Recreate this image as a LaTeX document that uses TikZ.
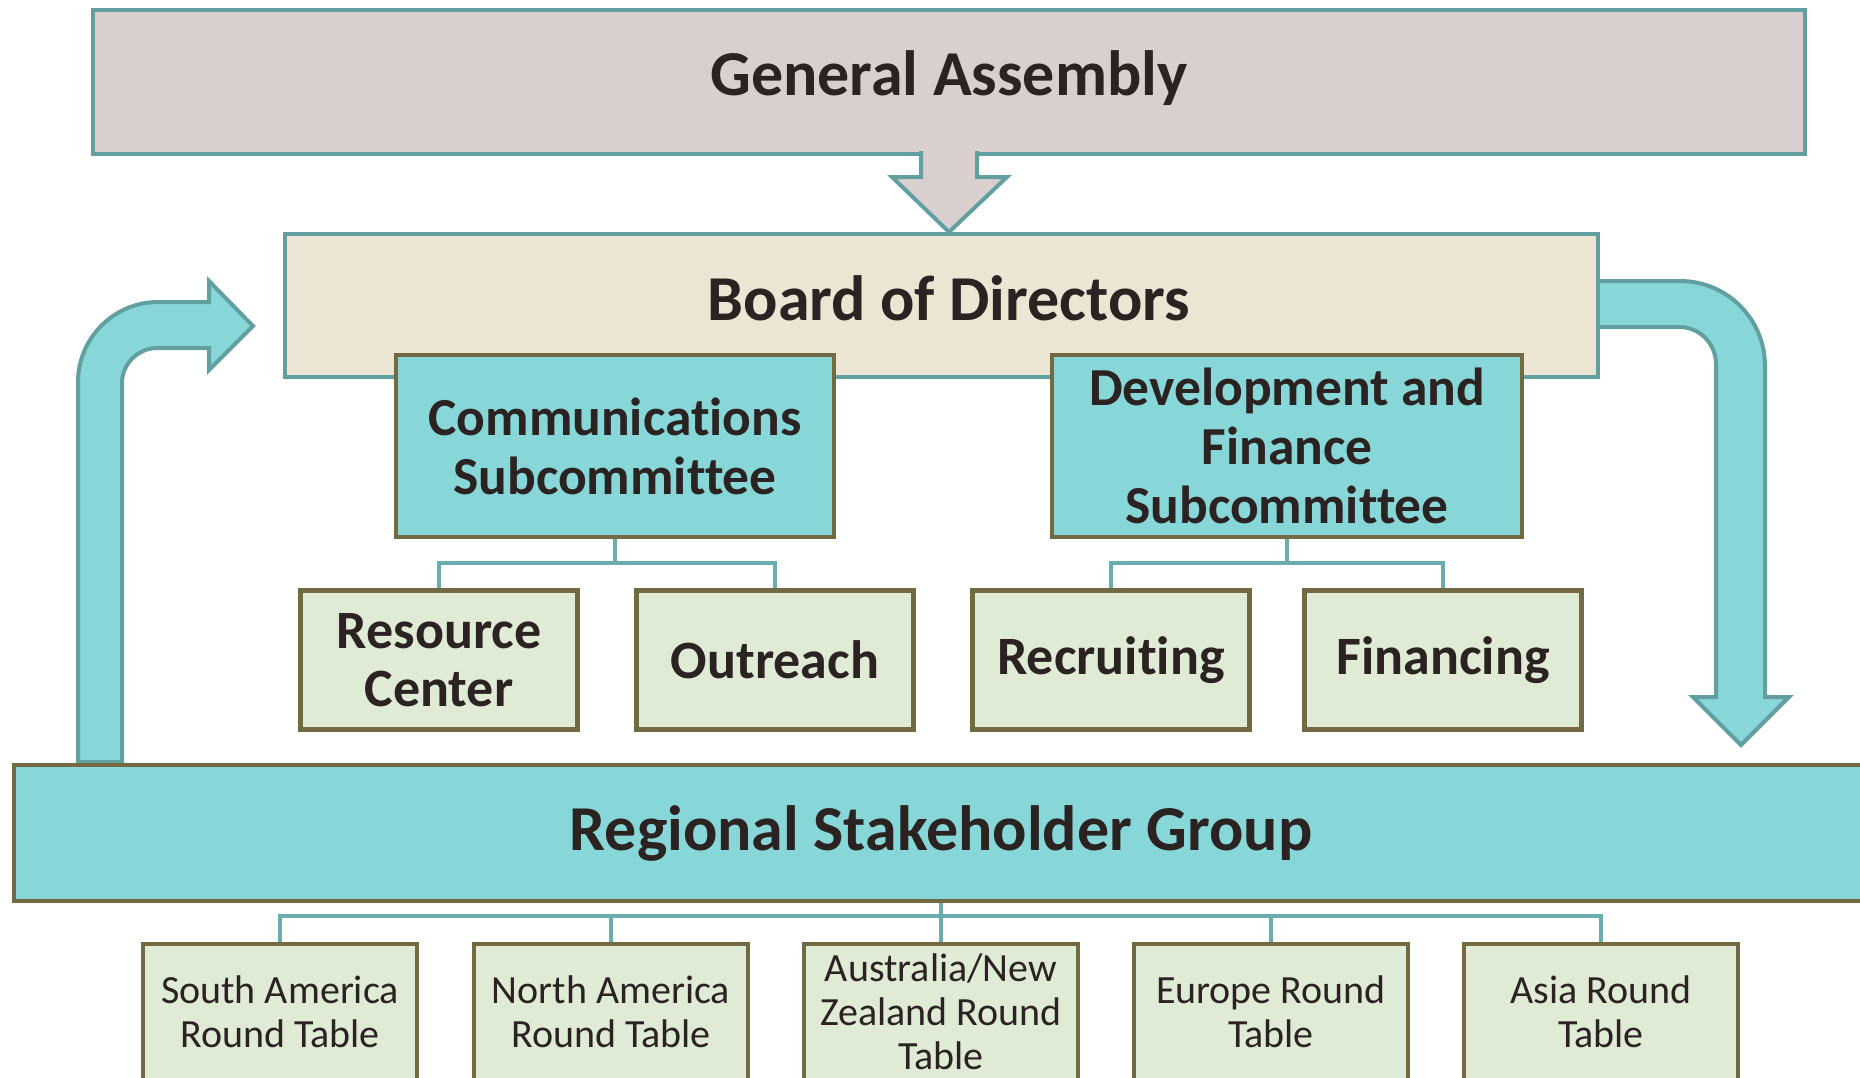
\documentclass[tikz,border=0pt]{standalone}
\usepackage{fontspec}
\setmainfont{Carlito}[Ligatures=NoCommon]
\usetikzlibrary{shapes}

\definecolor{gaFill}{HTML}{D9CFCF}
\definecolor{boardFill}{HTML}{ECE5D3}
\definecolor{tealFill}{HTML}{88D7D8}
\definecolor{leafFill}{HTML}{E0EBD6}
\definecolor{tealLine}{HTML}{629FA0}
\definecolor{oliveLine}{HTML}{736943}
\definecolor{linkLine}{HTML}{6AADAE}
\definecolor{inkText}{HTML}{2B2222}

\begin{document}
\begin{tikzpicture}[x=1pt,y=-1pt,
    every node/.style={text=inkText,inner sep=0pt},
    headbox/.style={draw=tealLine,line width=4pt,text depth=17pt,font=\fontsize{64}{77}\selectfont\bfseries},
    headtext/.style={anchor=base,font=\fontsize{64}{77}\selectfont\bfseries},
    subbox/.style={draw=oliveLine,line width=4.5pt,fill=tealFill,align=center,minimum height=182pt,font=\fontsize{53.5}{59}\selectfont\bfseries},
    teambox/.style={draw=oliveLine,line width=4.5pt,fill=leafFill,align=center,minimum width=277pt,minimum height=139pt,font=\fontsize{54}{58}\selectfont\bfseries},
    tablebox/.style={draw=oliveLine,line width=4.5pt,fill=leafFill,align=center,minimum width=274pt,minimum height=136pt,font=\fontsize{40}{44}\selectfont},
    link/.style={draw=linkLine,line width=4pt},
    blockarrow/.style={draw=tealLine,line width=4pt,fill=tealFill}]

    \clip (0,0) rectangle (1860,1077);

    \node[headbox,fill=gaFill,minimum width=1712pt,minimum height=144pt] (ga) at (949,82) {General Assembly};
    \node[headbox,fill=boardFill,minimum width=1313pt,minimum height=143pt] (board) at (941,305) {};
    \node[headtext] (boardname) at (949,320) {Board of Directors};
    \filldraw[blockarrow,fill=gaFill] (921,151) -- (921,177) -- (892,177) -- (949,232) -- (1007,177) -- (977,177) -- (977,151);

    \node[subbox,minimum width=438pt] (comm) at (615,446) {Communications\\Subcommittee};
    \node[subbox,minimum width=470pt] (devfin) at (1287,446) {Development and\\Finance\\Subcommittee};

    \node[teambox] (resource) at (439,660) {Resource\\Center};
    \node[teambox] (outreach) at (775,660) {Outreach};
    \node[teambox] (recruit) at (1111,660) {Recruiting};
    \node[teambox] (finance) at (1443,660) {Financing};
    \draw[link] (comm.south) -- ++(0,24) -| (resource.north);
    \draw[link] (comm.south) -- ++(0,24) -| (outreach.north);
    \draw[link] (devfin.south) -- ++(0,24) -| (recruit.north);
    \draw[link] (devfin.south) -- ++(0,24) -| (finance.north);

    % feedback arrows
    \filldraw[blockarrow] (78,762) -- (78,382) .. controls (78,338) and (114,302) .. (158,302) -- (209,302) -- (209,281) -- (253,326) -- (209,370) -- (209,348) -- (157,348) .. controls (138,348) and (122,364) .. (122,383) -- (122,762) -- cycle;
    \filldraw[blockarrow] (1600,281) -- (1680,281) .. controls (1727,281) and (1765,319) .. (1765,366) -- (1765,697) -- (1789,697) -- (1741,745) -- (1693,697) -- (1716,697) -- (1716,364) .. controls (1716,344) and (1700,327) .. (1679,327) -- (1600,327);

    \node[headbox,draw=oliveLine,line width=4.5pt,fill=tealFill,minimum width=1870pt,minimum height=136pt] (region) at (949,833) {};
    \node[headtext] (regionname) at (941,850) {Regional Stakeholder Group};

    \node[tablebox] (samerica) at (280,1012) {South America\\Round Table};
    \node[tablebox] (namerica) at (611,1012) {North America\\Round Table};
    \node[tablebox] (anz) at (941,1012) {Australia/New\\Zealand Round\\Table};
    \node[tablebox] (europe) at (1271,1012) {Europe Round\\Table};
    \node[tablebox] (asia) at (1601,1012) {Asia Round\\Table};
    \draw[link] (anz.north) -- (anz.north |- region.south);
    \draw[link] (samerica.north) -- ++(0,-26) -| (asia.north);
    \draw[link] (namerica.north) -- ++(0,-26);
    \draw[link] (europe.north) -- ++(0,-26);
\end{tikzpicture}
\end{document}
